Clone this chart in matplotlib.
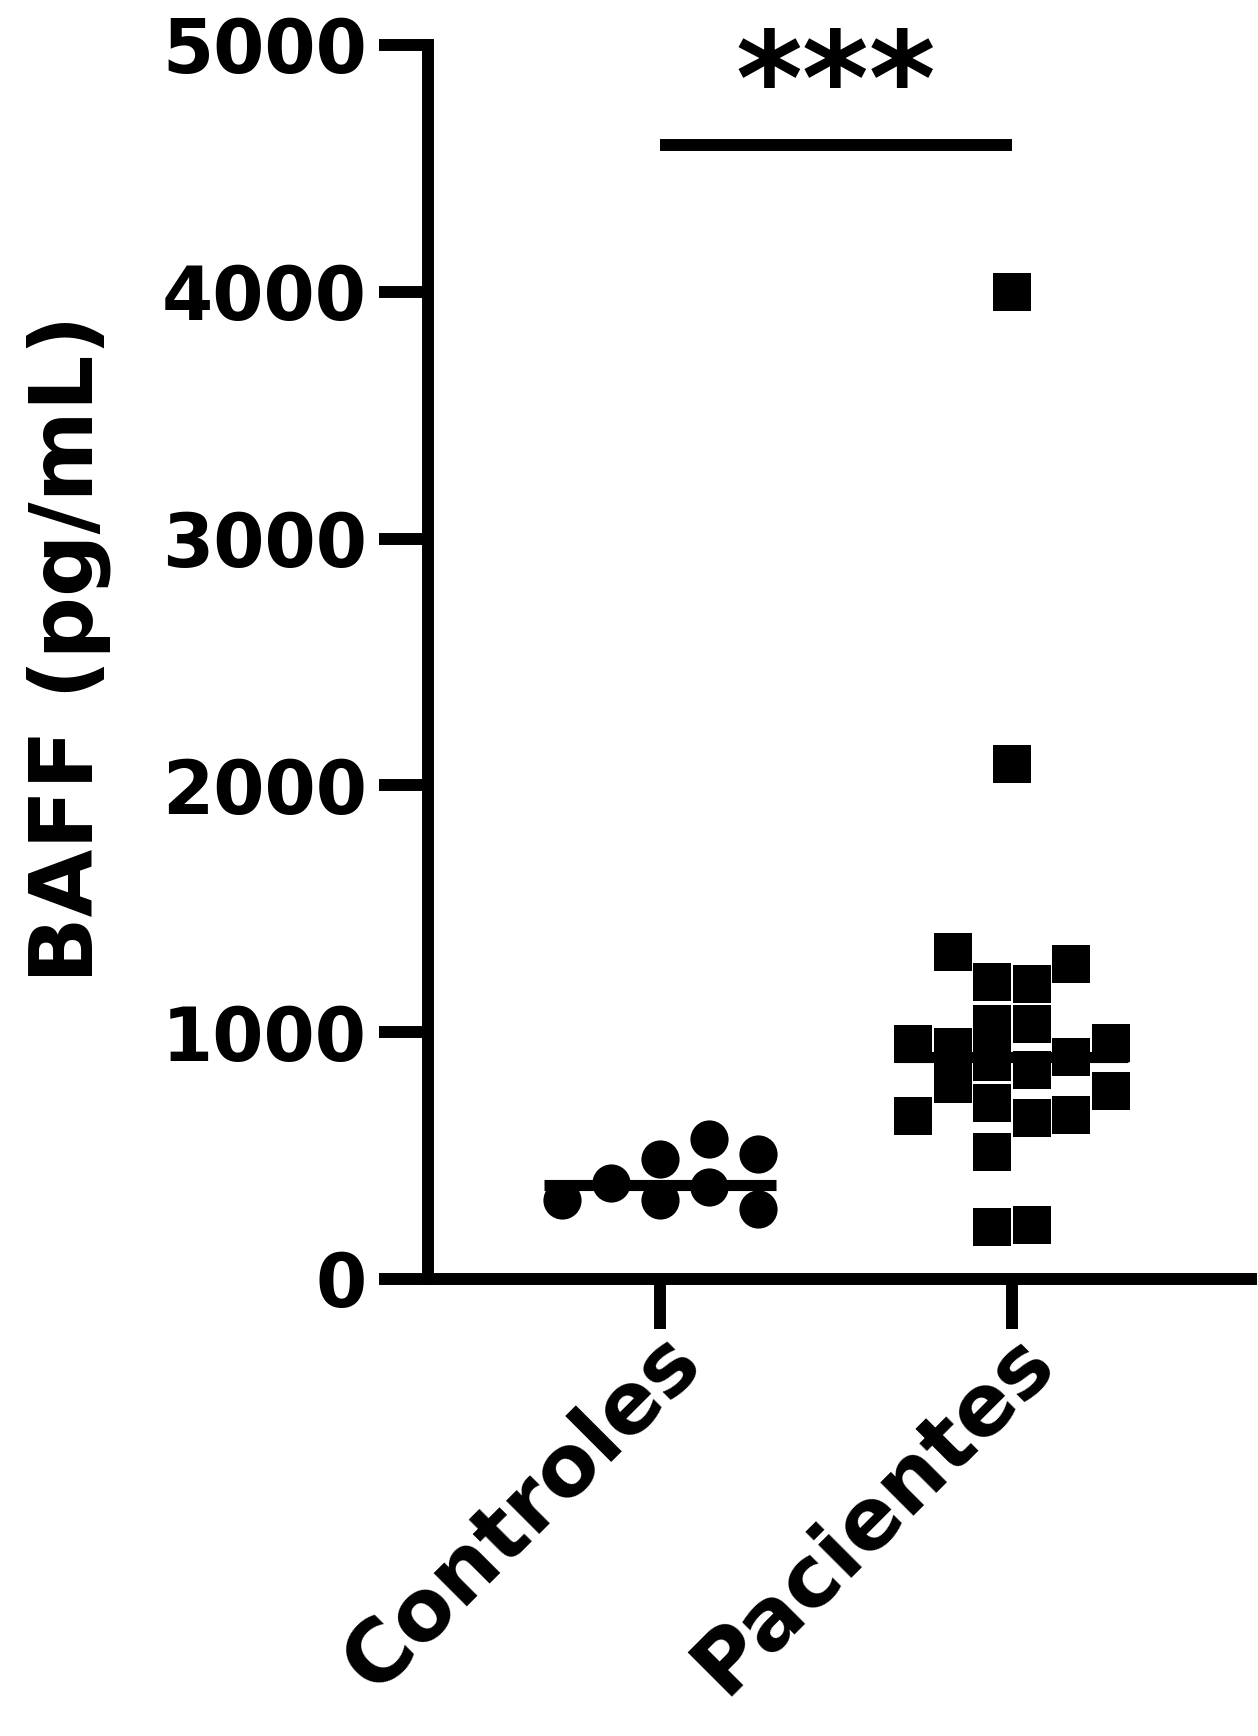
import numpy as np
import matplotlib.pyplot as plt
from matplotlib.transforms import ScaledTranslation

# BAFF levels (pg/mL), in sample order
controles = [320, 486, 372, 389, 567, 283, 320, 506]
pacientes = [211, 218, 514, 652, 712, 789, 664, 660, 761, 846, 879, 899,
             942, 951, 955, 1032, 1033, 1202, 1197, 1324, 1278, 2085, 4000]
grupos = ['Controles', 'Pacientes']
y_ticks = [0, 1000, 2000, 3000, 4000, 5000]
sig_text = '***'


def column_scatter(values, step, min_dy):
    # put each point in the nearest free column, then centre each cluster
    vals = np.asarray(values, dtype=float)
    slots = np.zeros(len(vals))
    cand = [0, 1, -1, 2, -2, 3, -3, 4, -4, 5, -5]
    for i, v in enumerate(vals):
        for c in cand:
            if not any(slots[j] == c and abs(vals[j] - v) < min_dy for j in range(i)):
                slots[i] = c
                break
    idx = np.argsort(vals)
    clusters, cur = [], [idx[0]]
    for a, b in zip(idx[:-1], idx[1:]):
        if vals[b] - vals[a] < min_dy:
            cur.append(b)
        else:
            clusters.append(cur)
            cur = [b]
    clusters.append(cur)
    for cl in clusters:
        s = slots[cl]
        slots[cl] = s - (s.min() + s.max()) / 2
    return slots * step


plt.rcParams['font.family'] = 'DejaVu Sans'
plt.rcParams['font.weight'] = 'bold'

fig = plt.figure(figsize=(12.58, 17.36), dpi=100)
ax = fig.add_axes([428 / 1258, 1 - 1279 / 1736, 823 / 1258, 1234 / 1736])

lw = 8.6
ms = 27.5

# controls: circles
xc = column_scatter(controles, 0.139, 152)
ax.scatter(0 + xc, controles, s=ms ** 2, marker='o', color='black',
           linewidths=0, zorder=3, clip_on=False)
ax.plot([-0.33, 0.33], [np.median(controles)] * 2, color='black',
        lw=8, solid_capstyle='butt', zorder=4)

# patients: squares
xp = column_scatter(pacientes, 0.1122, 152)
ax.scatter(1 + xp, pacientes, s=ms ** 2, marker='s', color='black',
           linewidths=0, zorder=3, clip_on=False)
ax.plot([1 - 0.33, 1 + 0.33], [np.median(pacientes)] * 2, color='black',
        lw=8, solid_capstyle='butt', zorder=2)

# significance bar
ax.plot([0, 1], [4595, 4595], color='black', lw=8.6,
        solid_capstyle='butt', clip_on=False)
ax.text(0.5, 4823, sig_text, ha='center', va='center', fontsize=92,
        fontweight='bold')

ax.set_xlim(-0.659, 1.679)
ax.set_ylim(0, 5000)
ax.set_yticks(y_ticks)
ax.set_yticklabels([str(t) for t in y_ticks], fontsize=53, fontweight='bold')
ax.set_xticks([0, 1])
ax.set_xticklabels(grupos, fontsize=62, fontweight='bold', rotation=45,
                   ha='right', rotation_mode='anchor')

for side in ['top', 'right']:
    ax.spines[side].set_visible(False)
for side in ['left', 'bottom']:
    ax.spines[side].set_linewidth(lw)
    ax.spines[side].set_capstyle('projecting')

ax.tick_params(axis='y', length=35, width=lw, pad=9)
ax.tick_params(axis='x', length=36, width=lw, pad=0)

# nudge the slanted labels so they sit just below-right of the tick ends
shift = ScaledTranslation(-0.01, 0.1, fig.dpi_scale_trans)
for lab in ax.get_xticklabels():
    lab.set_transform(lab.get_transform() + shift)

ax.set_ylabel('BAFF (pg/mL)', fontsize=63, fontweight='bold')
ax.yaxis.set_label_coords(-0.385, 0.511)

fig.savefig('out.png', dpi=100)
